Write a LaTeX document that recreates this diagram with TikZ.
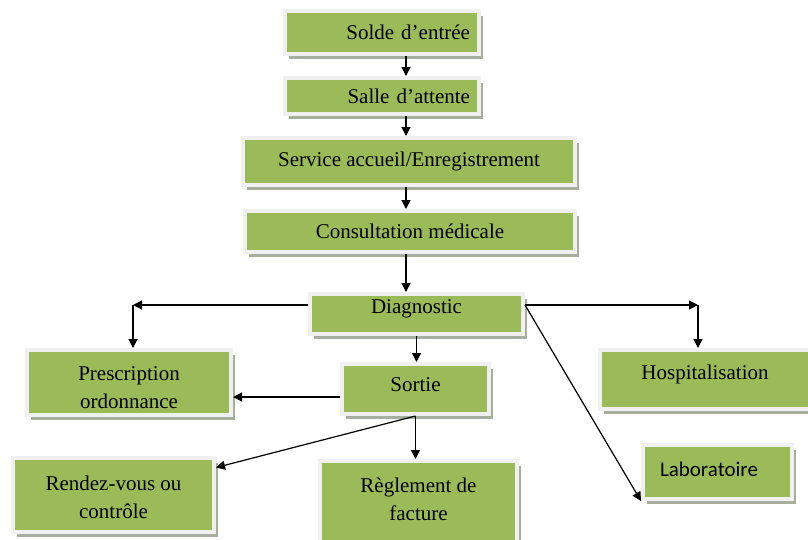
\documentclass[tikz,border=0pt]{standalone}
\usepackage{fontspec}
\setmainfont{Liberation Serif}
\newfontfamily\labofont{Carlito}
\usetikzlibrary{arrows.meta, shadows}
\definecolor{vert}{RGB}{155,187,89}
\definecolor{cadre}{RGB}{240,240,240}
\definecolor{ombre}{RGB}{168,174,158}
\tikzset{etape/.style = {fill=vert, draw=cadre, line width=4pt, inner sep=0, align=center,
    drop shadow={shadow xshift=4pt, shadow yshift=-5pt, fill=ombre, opacity=1},
    font=\fontsize{21}{28}\selectfont}}
\tikzset{fleche/.style = {-{Triangle[length=9pt, width=9pt]}, line width=1.2pt}}

\begin{document}
\begin{tikzpicture}[x=1pt, y=-1pt]
    \useasboundingbox (0, 0) rectangle (808, 539);

    \node [etape, minimum width=194pt, minimum height=43pt, text width=176pt, align=right] (solde) at (382, 32.5) {Solde d’entrée};
    \node [etape, minimum width=194pt, minimum height=36pt, text width=176pt, align=right] (salle) at (382, 96) {Salle d’attente};
    \node [etape, minimum width=332pt, minimum height=47pt] (accueil) at (409, 161.5) {Service accueil/Enregistrement};
    \node [etape, minimum width=330pt, minimum height=41pt] (consult) at (410, 231.5) {Consultation médicale};
    \node [etape, minimum width=213pt, minimum height=40pt, text depth=14pt] (diag) at (416.5, 314) {Diagnostic};
    \node [etape, minimum width=147pt, minimum height=50pt, text depth=8pt] (sortie) at (415.5, 389) {Sortie};
    \node [etape, minimum width=204pt, minimum height=65pt, text height=52pt] (presc) at (129, 382.5) {Prescription\\ordonnance};
    \node [etape, minimum width=210pt, minimum height=59pt, text depth=14pt] (hospit) at (705, 379.5) {Hospitalisation};
    \node [etape, minimum width=149pt, minimum height=54pt, text depth=6pt, text width=115pt, align=left,
        font=\labofont\fontsize{21}{28}\selectfont] (labo) at (717.5, 472) {Laboratoire};
    \node [etape, minimum width=201pt, minimum height=74pt, text height=47pt] (rdv) at (113.5, 495) {Rendez-vous ou\\contrôle};
    \node [etape, minimum width=197pt, minimum height=86pt, text depth=10pt] (reglement) at (418.5, 504) {Règlement de\\facture};

    \coordinate (axe) at (406, 0);
    \coordinate (gauche) at (133, 305);
    \coordinate (droite) at (698, 305);
    \coordinate (niveau) at (0, 397);

    \draw [fleche] (solde.south -| axe) -- (salle.north -| axe);
    \draw [fleche] (salle.south -| axe) -- (accueil.north -| axe);
    \draw [fleche] (accueil.south -| axe) -- (consult.north -| axe);
    \draw [fleche] (consult.south -| axe) -- (diag.north -| axe);
    \draw [fleche] (diag.west |- gauche) -- (gauche);
    \draw [fleche] (gauche) -- (presc.north -| gauche);
    \draw [fleche] (diag.east |- droite) -- (droite);
    \draw [fleche] (droite) -- (hospit.north -| droite);
    \draw [fleche] (diag.east |- droite) -- (labo.south west);
    \draw [fleche] (diag.south) -- (diag.south |- sortie.north);
    \draw [fleche] (sortie.west |- niveau) -- (presc.east |- niveau);
    \draw [fleche] (sortie.south) -- (rdv.15);
    \draw [fleche] (sortie.south) -- (sortie.south |- reglement.north);
\end{tikzpicture}
\end{document}
